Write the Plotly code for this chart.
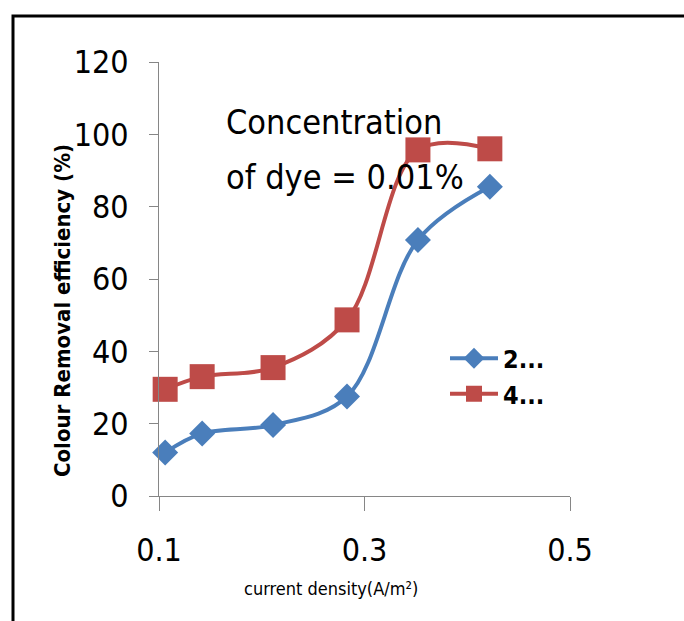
import plotly.graph_objects as go

# Data
current_density = [0.106, 0.142, 0.211, 0.283, 0.352, 0.422]
series_2 = [12, 17.3, 19.6, 27.5, 70.8, 85.5]
series_4 = [29.5, 33, 35.5, 48.7, 95.7, 96]
series_names = ["2...", "4..."]
x_ticks = [0.1, 0.3, 0.5]
y_ticks = [0, 20, 40, 60, 80, 100, 120]
note_lines = ["Concentration", "of dye = 0.01%"]
x_title = "current density(A/m²)"
y_title = "Colour Removal efficiency (%)"

FONT = "DejaVu Sans Condensed, Liberation Sans Narrow, sans-serif"

fig = go.Figure()
fig.add_trace(go.Scatter(
    x=current_density, y=series_2, name=series_names[0], mode="lines+markers",
    line=dict(color="#4a7ebb", width=4, shape="spline", smoothing=1),
    marker=dict(symbol="diamond", size=20, color="#4a7ebb", line=dict(width=0)),
    cliponaxis=False, legendgroup="a",
))
fig.add_trace(go.Scatter(
    x=current_density, y=series_4, name=series_names[1], mode="lines+markers",
    line=dict(color="#be4b48", width=4, shape="spline", smoothing=1),
    marker=dict(symbol="square", size=25, color="#be4b48", line=dict(width=0)),
    cliponaxis=False, legendgroup="b",
))

W, H = 684, 621
L, R, T, B = 159, 114, 62, 125
pw, ph = W - L - R, H - T - B

def px_x(p):
    return (p - L) / pw

def px_y(p):
    return (H - B - p) / ph

fig.update_layout(
    width=W, height=H,
    margin=dict(l=L, r=R, t=T, b=B, autoexpand=False),
    paper_bgcolor="white", plot_bgcolor="white",
    showlegend=True,
    legend=dict(
        x=px_x(445), xanchor="left", y=px_y(376), yanchor="middle",
        font=dict(family=FONT, size=25, color="black", weight="bold"),
        itemwidth=48, tracegroupgap=14, bgcolor="rgba(0,0,0,0)",
        traceorder="normal",
    ),
    xaxis=dict(
        range=[0.1, 0.5], tickvals=x_ticks, ticktext=[str(v) for v in x_ticks],
        showgrid=False, zeroline=False, showline=True, linecolor="#868686", linewidth=1,
        ticks="outside", ticklen=14, tickcolor="#868686",
        tickfont=dict(family=FONT, size=32, color="black"),
        ticklabelstandoff=12,
    ),
    yaxis=dict(
        range=[0, 120], tickvals=y_ticks,
        showgrid=False, zeroline=False, showline=True, linecolor="#868686", linewidth=1,
        ticks="outside", ticklen=9, tickcolor="#868686",
        tickfont=dict(family=FONT, size=32, color="black"),
        ticklabelstandoff=14,
    ),
    shapes=[dict(type="rect", xref="paper", yref="paper",
                 x0=px_x(13), x1=px_x(720), y0=px_y(680), y1=px_y(16),
                 line=dict(color="black", width=3), fillcolor="rgba(0,0,0,0)", layer="above")],
    annotations=[
        dict(text=note_lines[0], xref="paper", yref="paper", x=px_x(224), y=px_y(122),
             xanchor="left", yanchor="middle", showarrow=False,
             font=dict(family=FONT, size=34, color="black")),
        dict(text=note_lines[1], xref="paper", yref="paper", x=px_x(224), y=px_y(177),
             xanchor="left", yanchor="middle", showarrow=False,
             font=dict(family=FONT, size=34, color="black")),
        dict(text=x_title, xref="paper", yref="paper", x=px_x(331), y=px_y(588),
             xanchor="center", yanchor="middle", showarrow=False,
             font=dict(family=FONT, size=18, color="black")),
        dict(text=y_title, xref="paper", yref="paper", x=px_x(62), y=px_y(311),
             xanchor="center", yanchor="middle", showarrow=False, textangle=-90,
             font=dict(family=FONT, size=22, color="black", weight="bold")),
    ],
)

fig.write_html("out.html")
